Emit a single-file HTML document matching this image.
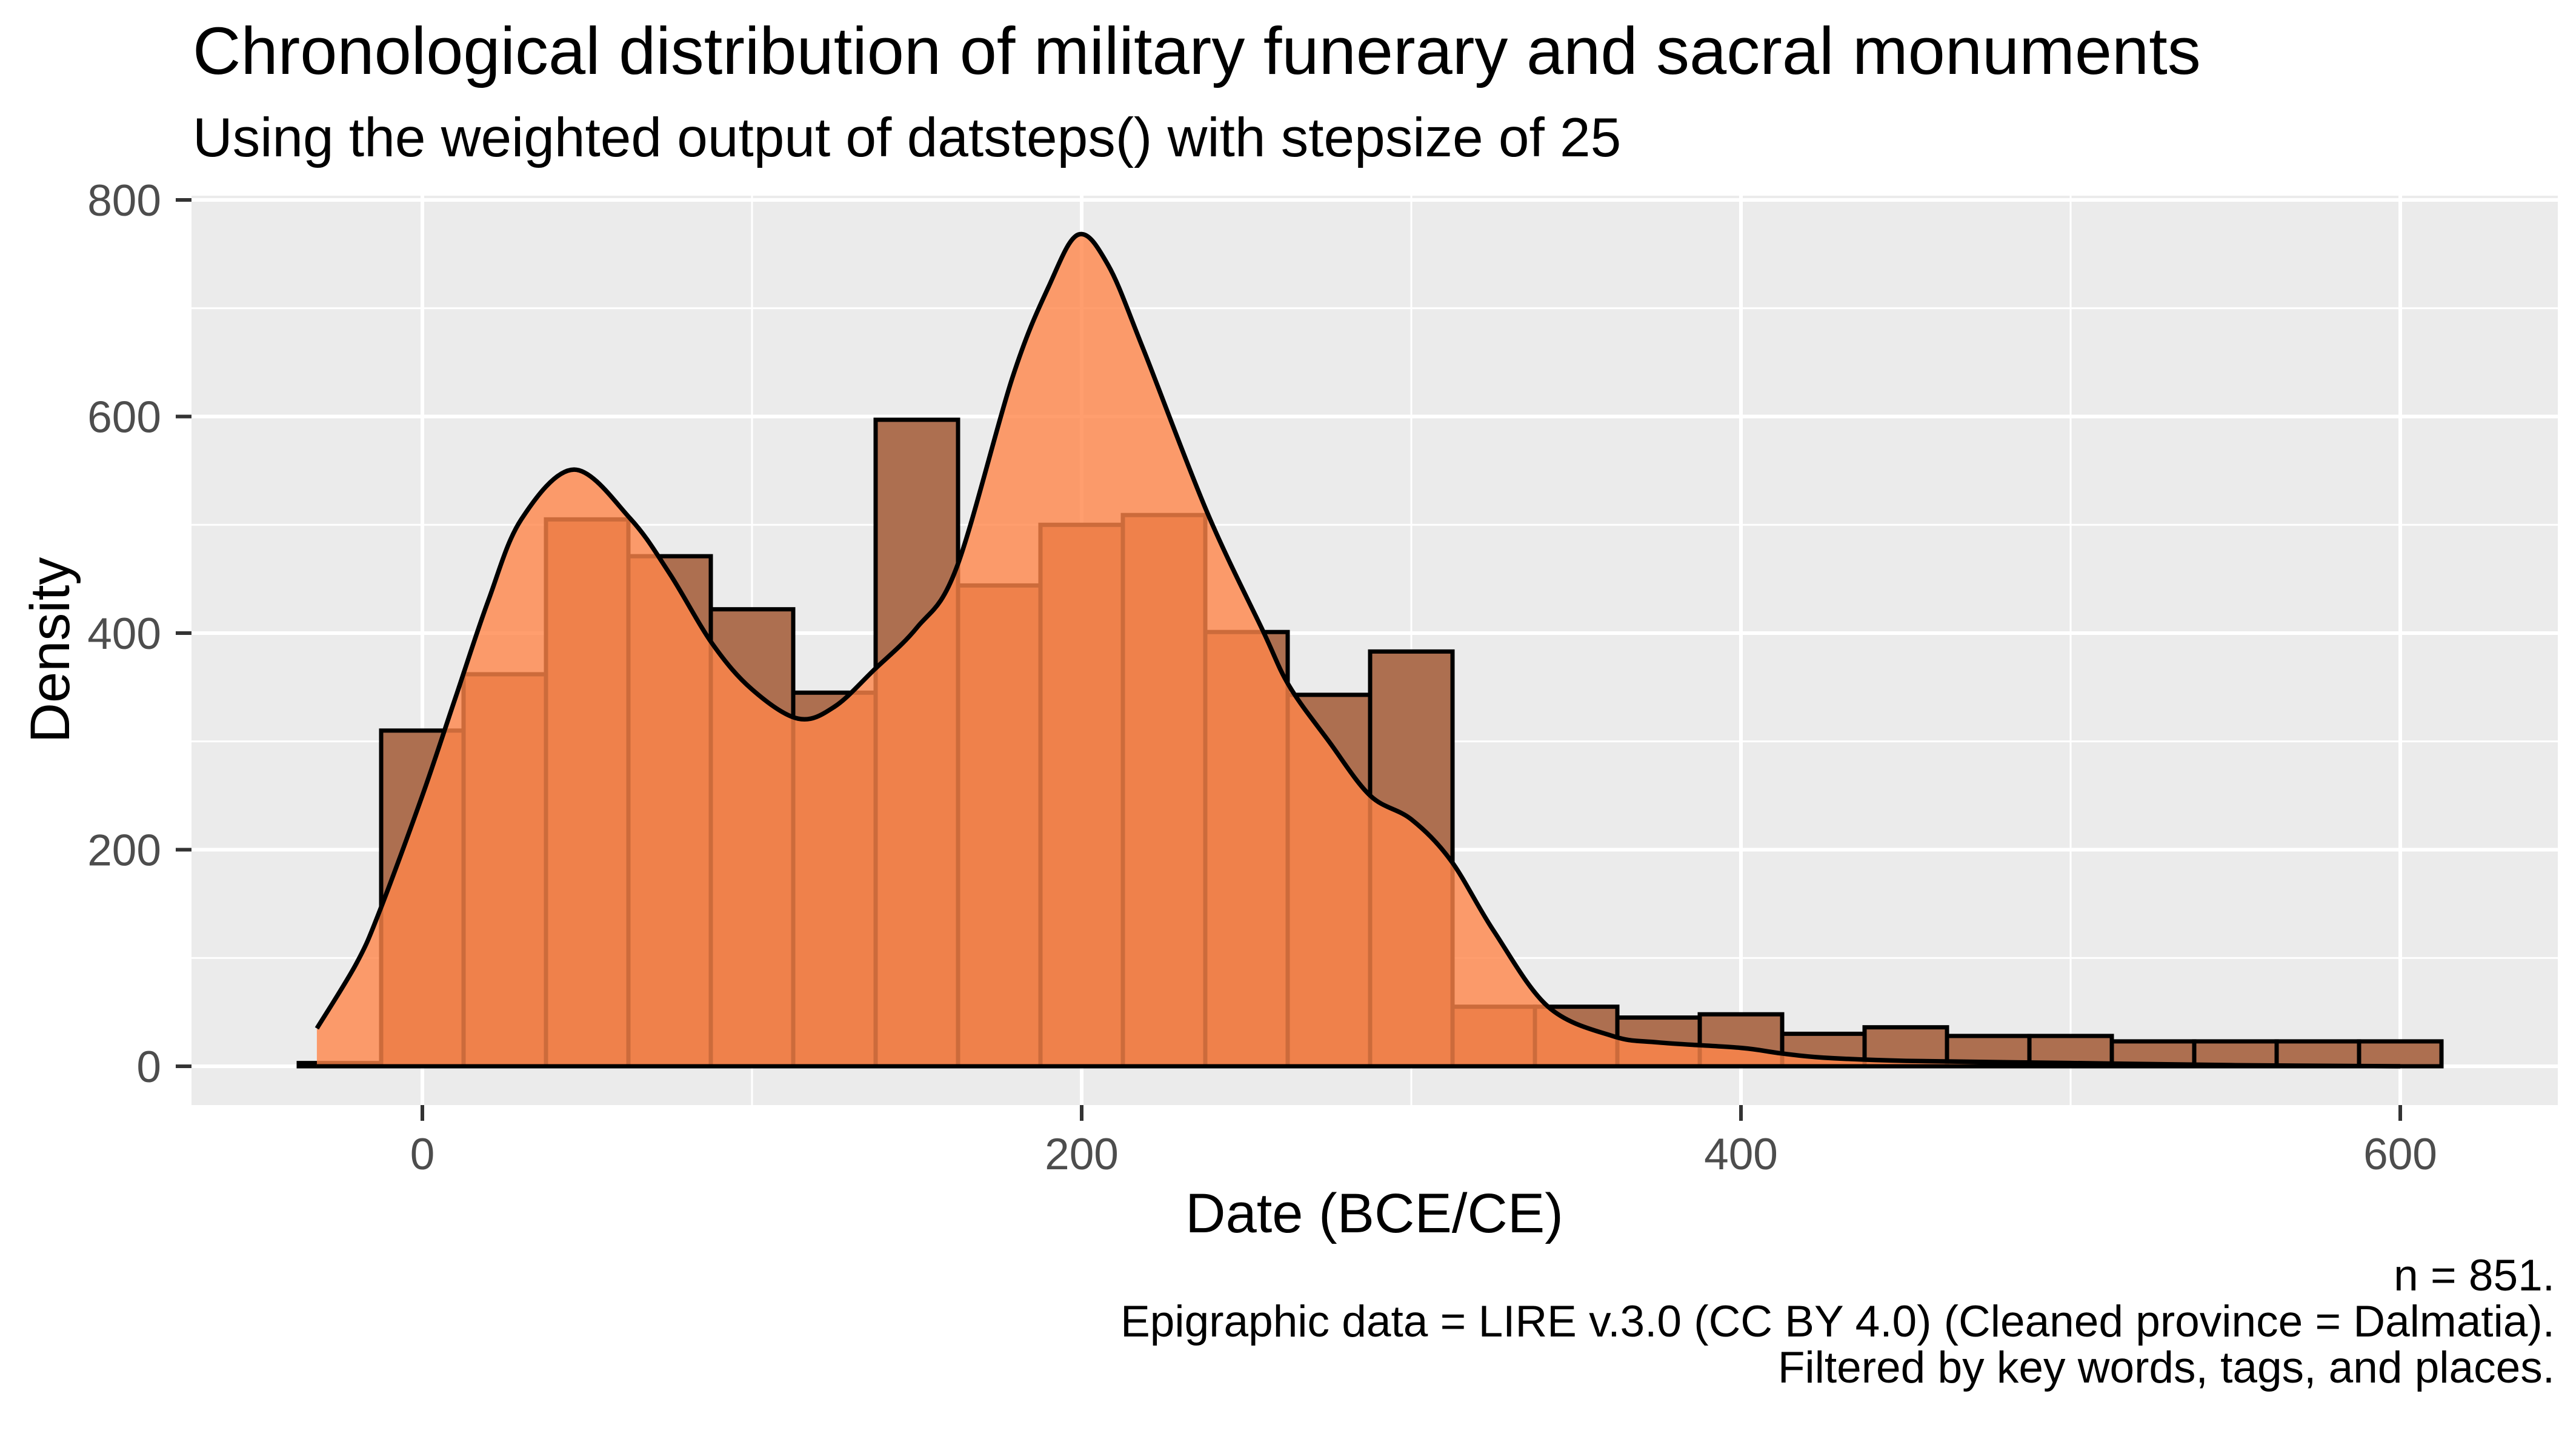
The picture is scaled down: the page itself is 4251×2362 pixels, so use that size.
<!DOCTYPE html>
<html><head><meta charset="utf-8"><style>
html,body{margin:0;padding:0;background:#fff;}
svg{display:block;font-family:"Liberation Sans",Arial,sans-serif;}
</style></head><body>
<svg id="chart" width="4251" height="2362" viewBox="0 0 4251 2362" xmlns="http://www.w3.org/2000/svg">
<text x="318" y="122" font-size="110" fill="#000">Chronological distribution of military funerary and sacral monuments</text>
<text x="318" y="258" font-size="91" fill="#000">Using the weighted output of datsteps() with stepsize of 25</text>
<rect x="316" y="323" width="3905" height="1501" fill="#EBEBEB"/>
<g id="grid"></g>
<g id="bars"></g>
<g id="density"></g>
<g id="axes"></g>
<text transform="translate(114,1073) rotate(-90)" text-anchor="middle" font-size="92" fill="#000">Density</text>
<text x="2268" y="2034" text-anchor="middle" font-size="92" fill="#000">Date (BCE/CE)</text>
<g font-size="73" text-anchor="end" fill="#000">
<text x="4216" y="2130">n = 851.</text>
<text x="4216" y="2206">Epigraphic data = LIRE v.3.0 (CC BY 4.0) (Cleaned province = Dalmatia).</text>
<text x="4216" y="2282">Filtered by key words, tags, and places.</text>
</g>
</svg>
<script>
const binCenters = [-25,0,25,50,75,100,125,150,175,200,225,250,275,300,325,350,375,400,425,450,475,500,525,550,575,600];
const binHeights = [3,310,362,505,471,422,345,597,444,500,509,401,343,383,55,55,45,48,30,36,28,28,23,23,23,23];
const densX = [-32,-20,-13,0,10,20,30,46,63,75,88,100,114,125,137,150,162,179,190,199,208,218.6,238,255,263,275,287.5,300,312,325,341.5,361,375,400,412,425,450,500,550,600];
const densY = [35,95,143,250,340,430,505,551,506,455,390,348,321,332,366,405,460,636,720,768,740,663,512,402,351,300,250,228,190,125,55,28,22,17,12,8,5,3,1,0];
const xTicks = [0,200,400,600];
const xMinor = [100,300,500];
const yTicks = [0,200,400,600,800];
const yMinor = [100,300,500,700];
const binWidth = 25;

const X0=697, XU=5.44, Y0=1760, YU=1.7875;
const PL=316, PR=4221, PT=323, PB=1824;
const sx = v => X0 + v*XU;
const sy = v => Y0 - v*YU;
const NS='http://www.w3.org/2000/svg';
function mk(tag, attrs, parent){const e=document.createElementNS(NS,tag);for(const k in attrs)e.setAttribute(k,attrs[k]);parent.appendChild(e);return e;}

const grid=document.getElementById('grid');
yMinor.forEach(v=>{const l=mk('line',{x1:PL,x2:PR,y1:sy(v),y2:sy(v),stroke:'#fff','stroke-width':3},grid);

});
xMinor.forEach(v=>{const l=mk('line',{x1:sx(v),x2:sx(v),y1:PT,y2:PB,stroke:'#fff','stroke-width':3},grid);

});
yTicks.forEach(v=>{const l=mk('line',{x1:PL,x2:PR,y1:sy(v),y2:sy(v),stroke:'#fff','stroke-width':6},grid);

});
xTicks.forEach(v=>{const l=mk('line',{x1:sx(v),x2:sx(v),y1:PT,y2:PB,stroke:'#fff','stroke-width':6},grid);

});

const bars=document.getElementById('bars');
binCenters.forEach((c,i)=>{
  const x1=sx(c-binWidth/2), x2=sx(c+binWidth/2), y=sy(binHeights[i]);
  const r=mk('rect',{x:x1,y:y,width:x2-x1,height:sy(0)-y,fill:'#AD6F50',stroke:'#000','stroke-width':7},bars);
  
  
});

const pts=densX.map((v,i)=>[sx(v),sy(densY[i])]);
function smooth(p){
  let s='';
  for(let i=0;i<p.length-1;i++){
    const p0=p[Math.max(0,i-1)],p1=p[i],p2=p[i+1],p3=p[Math.min(p.length-1,i+2)];
    const c1=[p1[0]+(p2[0]-p0[0])/6,p1[1]+(p2[1]-p0[1])/6];
    const c2=[p2[0]-(p3[0]-p1[0])/6,p2[1]-(p3[1]-p1[1])/6];
    s+=' C'+c1[0]+','+c1[1]+' '+c2[0]+','+c2[1]+' '+p2[0]+','+p2[1];
  }
  return s;
}
const dens=document.getElementById('density');
const curve=smooth(pts);
const d='M'+pts[0][0]+','+sy(0)+' L'+pts[0][0]+','+pts[0][1]+curve+' L'+pts[pts.length-1][0]+','+sy(0)+' Z';
const area=mk('path',{d:d,fill:'#FF864A','fill-opacity':0.8},dens);


const line=mk('path',{d:'M'+pts[0][0]+','+pts[0][1]+curve,fill:'none',stroke:'#000','stroke-width':7.5,'stroke-linejoin':'round'},dens);


const base=mk('line',{x1:pts[0][0],x2:pts[pts.length-1][0],y1:sy(0),y2:sy(0),stroke:'#000','stroke-width':7},dens);



const axes=document.getElementById('axes');
yTicks.forEach(v=>{
  const t=mk('line',{x1:290,x2:316,y1:sy(v),y2:sy(v),stroke:'#333','stroke-width':6},axes);
  
  
  const tx=mk('text',{x:266,y:sy(v)+26,'text-anchor':'end','font-size':73,fill:'#4D4D4D'},axes);
  tx.textContent=v;
  
  
});
xTicks.forEach(v=>{
  const t=mk('line',{x1:sx(v),x2:sx(v),y1:PB,y2:PB+26,stroke:'#333','stroke-width':6},axes);
  
  
  const tx=mk('text',{x:sx(v),y:1930,'text-anchor':'middle','font-size':73,fill:'#4D4D4D'},axes);
  tx.textContent=v;
  
  
});
</script>
</body></html>
